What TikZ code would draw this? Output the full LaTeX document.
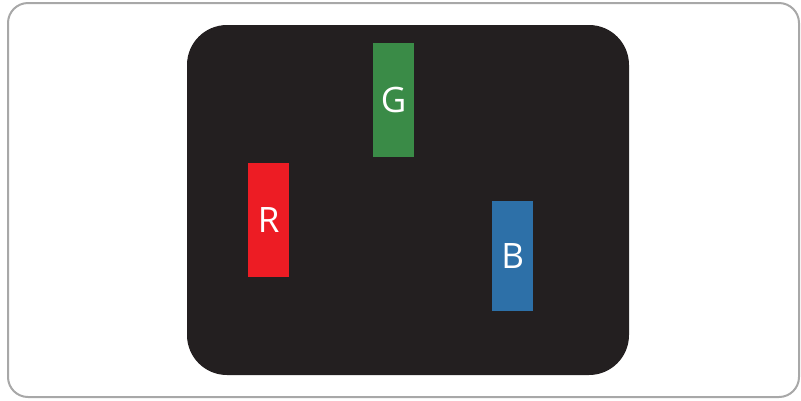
\documentclass[tikz,border=0pt]{standalone}
\usepackage{fontspec}
\setmainfont{Open Sans}
\definecolor{panelblack}{HTML}{231F20}
\definecolor{subred}{HTML}{ED1C24}
\definecolor{subgreen}{HTML}{3A8B47}
\definecolor{subblue}{HTML}{2D70A8}
\definecolor{framegray}{HTML}{A8A8A8}
\tikzset{
  subpix/.style={minimum width=41pt, minimum height=114pt, inner sep=0pt, text=white,
    font=\fontsize{35}{35}\selectfont, anchor=north west},
}
\begin{document}
\begin{tikzpicture}[x=1pt,y=-1pt]
\useasboundingbox (0,0) rectangle (801,400);
\draw[framegray, line width=2pt, rounded corners=20pt] (8,3) rectangle (799,397);
\fill[panelblack, rounded corners=40pt] (187,25) rectangle (629,375);
\node[subpix, fill=subred] (r) at (248,163) {R};
\node[subpix, fill=subgreen] (g) at (373,43) {G};
\node[subpix, fill=subblue, minimum height=110pt] (b) at (492,201) {B};
\end{tikzpicture}
\end{document}
